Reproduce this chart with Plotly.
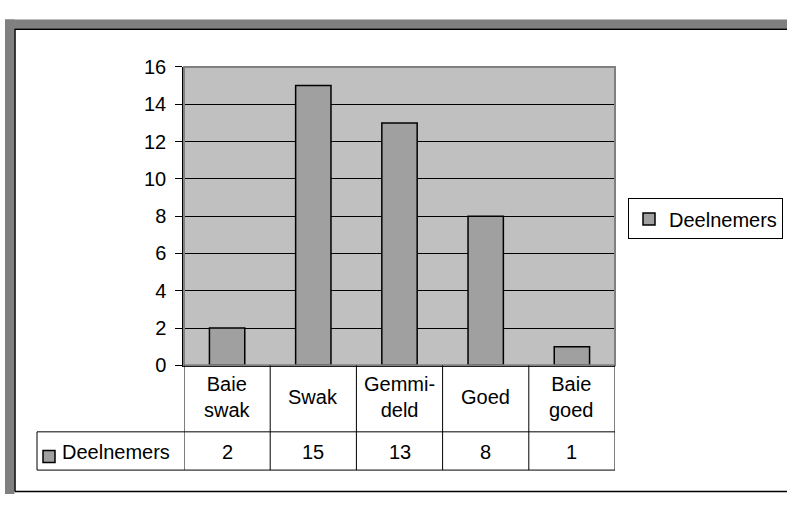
import plotly.graph_objects as go

# ---- data ----
categories = ["Baie swak", "Swak", "Gemmiddeld", "Goed", "Baie goed"]
tick_labels = ["Baie<br>swak", "Swak", "Gemmi-<br>deld", "Goed", "Baie<br>goed"]
series_name = "Deelnemers"
values = [2, 15, 13, 8, 1]
y_ticks = [0, 2, 4, 6, 8, 10, 12, 14, 16]

W, H = 787, 505
FONT = "Liberation Sans, Arial, sans-serif"
FS = 20
BAR = "#A0A0A0"
PLOTBG = "#C0C0C0"
FRAME = "#808080"

def px(x):
    """pixel x -> paper x"""
    return x / W

def py(y):
    """pixel y (from top) -> paper y"""
    return 1 - y / H

x_dom = [px(184), px(615)]
y_dom = [py(370.5), py(58.5)]

fig = go.Figure()
fig.add_trace(go.Bar(
    x=list(range(len(categories))), y=values, name=series_name,
    width=0.41, marker=dict(color=BAR, line=dict(color="black", width=1.5)),
    hovertext=categories, showlegend=True,
))

shapes = []
# window frame (gray bands + black inner lines)
shapes.append(dict(type="rect", xref="paper", yref="paper", x0=px(5), x1=1, y0=py(18.5), y1=py(9),
                   fillcolor=FRAME, line=dict(width=0), layer="below"))
shapes.append(dict(type="rect", xref="paper", yref="paper", x0=px(5), x1=px(14.5), y0=0, y1=py(9),
                   fillcolor=FRAME, line=dict(width=0), layer="below"))
shapes.append(dict(type="line", xref="paper", yref="paper", x0=px(14.5), x1=1, y0=py(19), y1=py(19),
                   line=dict(color="black", width=1.5)))
shapes.append(dict(type="line", xref="paper", yref="paper", x0=px(15), x1=px(15), y0=py(19), y1=py(502.5),
                   line=dict(color="black", width=1.5)))
shapes.append(dict(type="line", xref="paper", yref="paper", x0=px(15), x1=1, y0=py(502.5), y1=py(502.5),
                   line=dict(color="black", width=1.5)))
# plot area top/right border
shapes.append(dict(type="rect", xref="x domain", yref="y domain", x0=0, x1=1, y0=0, y1=1,
                   line=dict(color=FRAME, width=2), layer="above"))
# data table grid
row1_bottom = 440
row2_bottom = 480
for i in range(len(categories) + 1):
    shapes.append(dict(type="line", xref="x", yref="paper", x0=i - 0.5, x1=i - 0.5,
                       y0=py(370.5), y1=py(row2_bottom), line=dict(color="black", width=1)))
shapes.append(dict(type="line", xref="paper", yref="paper", x0=px(37), x1=px(37),
                   y0=py(row1_bottom), y1=py(row2_bottom), line=dict(color="black", width=1)))
for yy in (row1_bottom, row2_bottom):
    shapes.append(dict(type="line", xref="paper", yref="paper", x0=px(37), x1=x_dom[1],
                       y0=py(yy), y1=py(yy), line=dict(color="black", width=1)))
# legend key in table
shapes.append(dict(type="rect", xref="paper", yref="paper", x0=px(43), x1=px(55), y0=py(472), y1=py(459.5),
                   fillcolor=BAR, line=dict(color="black", width=1.5)))

annotations = []
for i, lab in enumerate(tick_labels):
    annotations.append(dict(xref="x", yref="paper", x=i, y=py(403.5), text=lab, showarrow=False,
                            xanchor="center", yanchor="middle", align="center",
                            font=dict(family=FONT, size=FS, color="black")))
for i, v in enumerate(values):
    annotations.append(dict(xref="x", yref="paper", x=i, y=py(461), text=str(v), showarrow=False,
                            xanchor="center", yanchor="middle",
                            font=dict(family=FONT, size=FS, color="black")))
annotations.append(dict(xref="paper", yref="paper", x=px(60), y=py(461), text=series_name, showarrow=False,
                        xanchor="left", yanchor="middle",
                        font=dict(family=FONT, size=FS, color="black")))

fig.update_layout(
    width=W, height=H, autosize=False,
    margin=dict(l=0, r=0, t=0, b=0, pad=0),
    paper_bgcolor="white", plot_bgcolor=PLOTBG,
    font=dict(family=FONT, size=FS, color="black"),
    xaxis=dict(domain=x_dom, range=[-0.5, len(categories) - 0.5], showticklabels=False,
               showgrid=False, zeroline=False, showline=True, linecolor="black", linewidth=1.5,
               ticks="", fixedrange=True),
    yaxis=dict(domain=y_dom, range=[0, 16], tickvals=y_ticks, ticktext=[str(t) for t in y_ticks],
               showgrid=True, gridcolor="black", gridwidth=1, zeroline=False,
               showline=True, linecolor="black", linewidth=1.5,
               ticks="outside", ticklen=7, tickcolor="black", tickwidth=1,
               ticklabelstandoff=5, tickfont=dict(family=FONT, size=FS, color="black"),
               fixedrange=True),
    legend=dict(x=px(783), xanchor="right", y=py(196), yanchor="top",
                bordercolor="black", borderwidth=1, bgcolor="white",
                font=dict(family=FONT, size=FS, color="black"), itemwidth=30),
    shapes=shapes, annotations=annotations,
)

fig.write_html(
    "out.html",
    config={"displayModeBar": False},
    post_script="document.body.style.margin='0';document.documentElement.style.overflow='hidden';",
)
